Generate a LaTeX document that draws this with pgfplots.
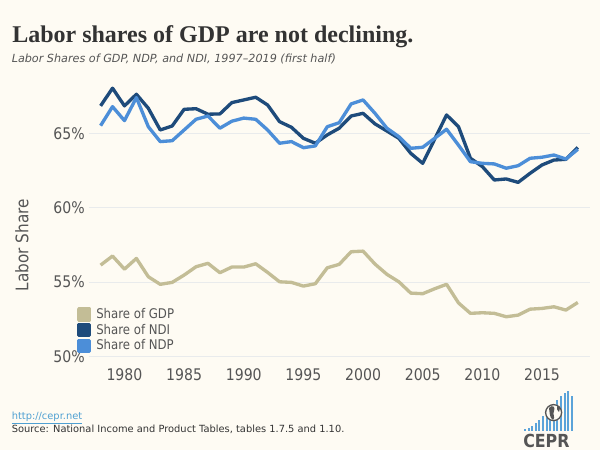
\documentclass[border=0pt]{standalone}
\usepackage{fontspec}
\setmainfont{DejaVu Sans}[FakeStretch=0.88]
\newfontfamily\verd{DejaVu Sans}
\newfontfamily\titlefont{Liberation Serif}
\usepackage{pgfplots}
\pgfplotsset{compat=1.18}
\definecolor{bg}{HTML}{FEFBF3}
\definecolor{gdpc}{HTML}{C3BD96}
\definecolor{ndic}{HTML}{1E4B7B}
\definecolor{ndpc}{HTML}{4C8ED8}
\definecolor{txt}{HTML}{555555}
\definecolor{titlec}{HTML}{333333}
\definecolor{gridc}{HTML}{E9EBEC}
\definecolor{linkc}{HTML}{4FA0D2}
\definecolor{logob}{HTML}{5BA3D9}

\begin{document}
\begin{tikzpicture}
\fill[bg] (0,0) rectangle (450pt,-337.5pt);
\begin{axis}[
  at={(66.5pt,-269.6pt)}, anchor=south west,
  scale only axis, width=375.8pt, height=214.3pt,
  xmin=1977, xmax=2019, ymin=49.8, ymax=69,
  axis line style={draw=none},
  major tick style={draw=none},
  ymajorgrids, grid style={gridc, line width=0.75pt},
  xtick={1980,1985,...,2015}, ytick={50,55,60,65},
  /pgf/number format/.cd, 1000 sep={}, assume math mode=true, /pgfplots/.cd,
  tick label style={font=\fontsize{12}{14}\selectfont, text=txt},
  xticklabel style={anchor=base, yshift=-15.6pt},
  yticklabel style={anchor=east, inner sep=0pt, xshift=-2.8pt},
  yticklabel={\pgfmathprintnumber{\tick}\%},
  legend style={draw=none, fill=none, inner sep=0pt, outer sep=0pt,
    at={(-0.0234,0.182)}, anchor=north west, row sep=1pt,
    font=\fontsize{10}{12}\selectfont, text=txt,
    nodes={inner sep=0pt, text height=6pt, text depth=0pt}},
  legend cell align=left,
  legend image code/.code={\fill[#1] (0pt,-4.125pt) rectangle (8.25pt,4.125pt); \path (12pt,0pt);},
  every axis plot/.append style={line width=2.5pt, line join=round, no markers},
]
\addplot[color=gdpc] coordinates {
(1978,56.14) (1979,56.75) (1980,55.87) (1981,56.59) (1982,55.36) (1983,54.85)
(1984,54.98) (1985,55.47) (1986,56.03) (1987,56.26) (1988,55.63) (1989,56.01)
(1990,56.01) (1991,56.23) (1992,55.65) (1993,55.02) (1994,54.98) (1995,54.73)
(1996,54.89) (1997,55.96) (1998,56.19) (1999,57.04) (2000,57.08) (2001,56.21)
(2002,55.52) (2003,55.02) (2004,54.26) (2005,54.22) (2006,54.55) (2007,54.85)
(2008,53.60) (2009,52.90) (2010,52.94) (2011,52.90) (2012,52.67) (2013,52.78)
(2014,53.18) (2015,53.23) (2016,53.34) (2017,53.12) (2018,53.63)};
\addlegendentry{Share of GDP}
\addplot[color=ndic] coordinates {
(1978,66.84) (1979,68.03) (1980,66.84) (1981,67.62) (1982,66.68) (1983,65.22)
(1984,65.49) (1985,66.61) (1986,66.65) (1987,66.28) (1988,66.30) (1989,67.06)
(1990,67.24) (1991,67.42) (1992,66.90) (1993,65.78) (1994,65.40) (1995,64.66)
(1996,64.33) (1997,64.89) (1998,65.34) (1999,66.16) (2000,66.34) (2001,65.63)
(2002,65.15) (2003,64.66) (2004,63.65) (2005,62.98) (2006,64.60) (2007,66.23)
(2008,65.44) (2009,63.32) (2010,62.76) (2011,61.86) (2012,61.93) (2013,61.70)
(2014,62.31) (2015,62.87) (2016,63.20) (2017,63.25) (2018,64.05)};
\addlegendentry{Share of NDI}
\addplot[color=ndpc] coordinates {
(1978,65.51) (1979,66.79) (1980,65.85) (1981,67.40) (1982,65.44) (1983,64.44)
(1984,64.50) (1985,65.22) (1986,65.94) (1987,66.16) (1988,65.34) (1989,65.81)
(1990,66.02) (1991,65.94) (1992,65.22) (1993,64.33) (1994,64.44) (1995,64.03)
(1996,64.15) (1997,65.44) (1998,65.71) (1999,66.97) (2000,67.24) (2001,66.34)
(2002,65.34) (2003,64.77) (2004,63.99) (2005,64.06) (2006,64.66) (2007,65.27)
(2008,64.20) (2009,63.09) (2010,62.98) (2011,62.94) (2012,62.65) (2013,62.82)
(2014,63.32) (2015,63.39) (2016,63.54) (2017,63.27) (2018,63.92)};
\addlegendentry{Share of NDP}
\end{axis}
\begin{scope}[x=0.75pt,y=-0.75pt]
\node[anchor=base west, inner sep=0pt, text=titlec,
  font=\titlefont\bfseries\fontsize{18}{21}\selectfont] at (12,42.9)
  {Labor shares of GDP are not declining.};
\node[anchor=base west, inner sep=0pt, text=txt,
  font=\verd\itshape\fontsize{8.4}{10}\selectfont] at (11.5,62.5)
  {Labor Shares of GDP, NDP, and NDI, 1997–2019 (first half)};
\node[rotate=90, inner sep=0pt, text=txt, font=\fontsize{13}{15}\selectfont]
  at (22,245) {Labor Share};
\node[anchor=base west, inner sep=0pt, text=linkc,
  font=\verd\fontsize{7.4}{9}\selectfont] at (11.5,419.4) {\underline{http://cepr.net}};
\node[anchor=base west, inner sep=0pt, text=titlec,
  font=\verd\fontsize{7.4}{9}\selectfont] at (11.5,432.8)
  {Source: National Income and Product Tables, tables 1.7.5 and 1.10.};
% logo
\foreach \i/\h in {0/2,1/3,2/5,3/8,4/11,5/15,6/19,7/23,8/27,9/31,10/35,11/38,12/40,13/35}{
  \fill[logob] ({524+3.6*\i},431) rectangle ({524+3.6*\i+1.9},{431-\h});
}
\fill[bg] (553.6,412.6) circle (8.5);
\draw[txt, line width=1.0pt] (553.6,412.6) circle (8);
\fill[txt] (549,408) .. controls (552,404) and (556,407) .. (554,411) .. controls (552,415) and (556,417) .. (553,420) .. controls (549,417) and (550,413) .. cycle;
\fill[txt] (557,406) .. controls (560,407) and (561,410) .. (559,412) .. controls (557,410) .. cycle;
\node[anchor=base west, inner sep=0pt, text=txt, font=\bfseries\fontsize{13.5}{16}\selectfont]
  at (523,447.5) {CEPR};
\end{scope}
\pgfresetboundingbox
\useasboundingbox (0,0) rectangle (450pt,-337.5pt);
\end{tikzpicture}
\end{document}
